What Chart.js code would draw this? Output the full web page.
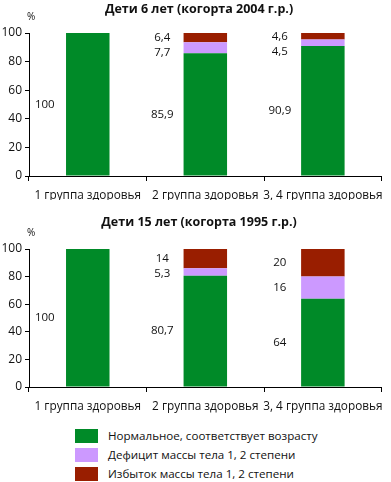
<!DOCTYPE html>
<html><head><meta charset="utf-8">
<script src="https://cdn.jsdelivr.net/npm/chart.js@4"></script>
<style>
html,body{margin:0;padding:0;background:#fff;}
body{width:391px;height:482px;position:relative;overflow:hidden;font-family:"Open Sans",sans-serif;}
.box{position:absolute;left:0;width:391px;}
#legend{position:absolute;left:75px;top:429px;font-size:11.6px;color:#111;}
#legend div{height:19px;line-height:14px;position:relative;padding-left:33px;white-space:nowrap;}
#legend span{position:absolute;left:0;top:0;width:23px;height:14px;}
</style></head>
<body>
<div class="box" style="top:0;height:200px"><canvas id="c1"></canvas></div>
<div class="box" style="top:200px;height:220px"><canvas id="c2"></canvas></div>
<div id="legend"></div>
<script>
const categories = ['1 группа здоровья', '2 группа здоровья', '3, 4 группа здоровья'];
const seriesNames = ['Нормальное, соответствует возрасту', 'Дефицит массы тела 1, 2 степени', 'Избыток массы тела 1, 2 степени'];
const seriesColors = ['#008A28', '#CC99FF', '#991E00'];
const titles = ['Дети 6 лет (когорта 2004 г.р.)', 'Дети 15 лет (когорта 1995 г.р.)'];
const yTicks = [0, 20, 40, 60, 80, 100];
const normal6 = [100, 85.9, 90.9];
const deficit6 = [0, 7.7, 4.5];
const excess6 = [0, 6.4, 4.6];
const normal15 = [100, 80.7, 64];
const deficit15 = [0, 5.3, 16];
const excess15 = [0, 14, 20];

const FONT = '"Open Sans", sans-serif';

const legend = document.getElementById('legend');
seriesNames.forEach((n, i) => {
  const d = document.createElement('div');
  d.innerHTML = '<span style="background:' + seriesColors[i] + '"></span>' + n;
  legend.appendChild(d);
});

const labelPlugin = {
  id: 'labels',
  afterDatasetsDraw(chart, args, opts) {
    const ctx = chart.ctx;
    ctx.save();
    ctx.fillStyle = '#111';
    ctx.font = '11.5px ' + FONT;
    ctx.textAlign = 'center';
    ctx.textBaseline = 'middle';
    const n = chart.data.labels.length;
    for (let i = 0; i < n; i++) {
      let prevY = -Infinity;
      for (let d = chart.data.datasets.length - 1; d >= 0; d--) {
        const v = chart.data.datasets[d].data[i];
        if (!v) continue;
        const el = chart.getDatasetMeta(d).data[i];
        let y = (el.y + el.base) / 2;
        if (y < prevY + 15) y = prevY + 15;
        prevY = y;
        const x = el.x - 43;
        ctx.fillText(String(v).replace('.', ','), x, y);
      }
    }
    ctx.font = 'bold 12.5px ' + FONT;
    ctx.fillStyle = '#111';
    ctx.fillText(opts.title, 199, opts.titleY);
    ctx.font = '10px ' + FONT;
    ctx.textAlign = 'left';
    ctx.fillText('%', 27, opts.pctY);
    ctx.restore();
  }
};

function make(id, normal, deficit, excess, title, padTop, xH, titleY, pctY) {
  const data = [normal, deficit, excess];
  new Chart(document.getElementById(id), {
    type: 'bar',
    data: {
      labels: categories,
      datasets: data.map((arr, i) => ({
        label: seriesNames[i], data: arr, backgroundColor: seriesColors[i],
        borderWidth: 0, barPercentage: 0.37, categoryPercentage: 1
      }))
    },
    options: {
      responsive: true, maintainAspectRatio: false, animation: false,
      devicePixelRatio: 1,
      layout: { padding: { top: padTop, left: 0, right: 3, bottom: 0 } },
      plugins: { legend: { display: false }, tooltip: { enabled: false },
        labels: { title: title, titleY: titleY, pctY: pctY } },
      scales: {
        x: {
          stacked: true,
          afterFit: s => { s.height = xH; },
          grid: { offset: true, drawOnChartArea: false, drawTicks: true, tickLength: 5, color: '#000' },
          border: { color: '#000', width: 1 },
          ticks: { color: '#111', font: { family: FONT, size: 11.8 }, padding: 8, maxRotation: 0, autoSkip: false }
        },
        y: {
          stacked: true, min: 0, max: 100,
          afterFit: s => { s.width = 29; },
          afterBuildTicks: s => { s.ticks = yTicks.map(v => ({ value: v })); },
          grid: { drawOnChartArea: false, tickLength: 4, color: '#000' },
          border: { color: '#000', width: 1 },
          ticks: { color: '#111', font: { family: FONT, size: 12 }, padding: 3 }
        }
      }
    },
    plugins: [labelPlugin]
  });
}
make('c1', normal6, deficit6, excess6, titles[0], 33, 24, 9, 17);
make('c2', normal15, deficit15, excess15, titles[1], 49, 33, 22, 33);
</script>
</body></html>
